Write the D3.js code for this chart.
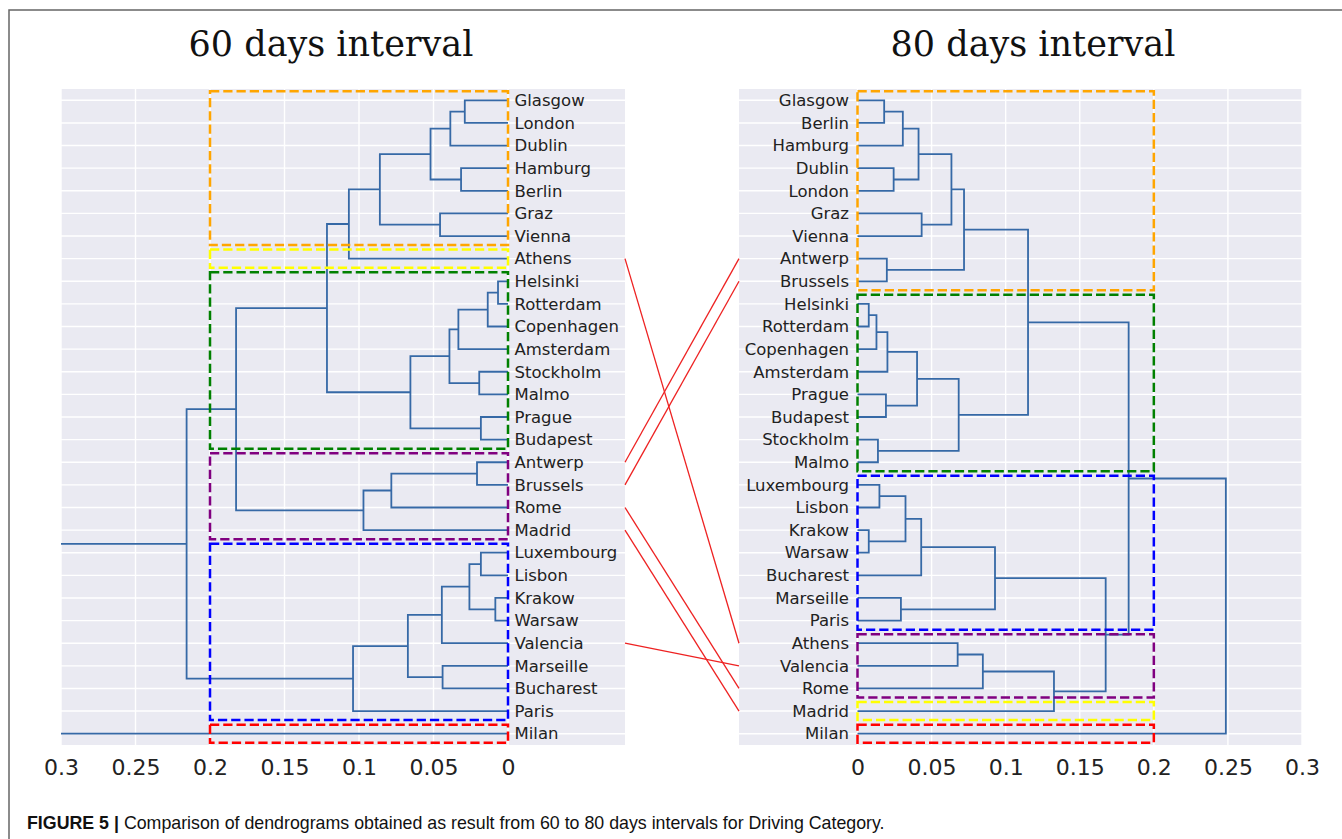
<!DOCTYPE html>
<html>
<head>
<meta charset="utf-8">
<script src="https://cdn.jsdelivr.net/npm/d3@7"></script>
<style>
  html, body { margin: 0; padding: 0; background: #ffffff; }
  svg { display: block; }
</style>
</head>
<body>
<svg id="chart" width="1342" height="839"></svg>
<script>
// ---------- data ----------
// Leaf order of each dendrogram (top to bottom)
const leaves60 = ["Glasgow","London","Dublin","Hamburg","Berlin","Graz","Vienna","Athens",
  "Helsinki","Rotterdam","Copenhagen","Amsterdam","Stockholm","Malmo","Prague","Budapest",
  "Antwerp","Brussels","Rome","Madrid","Luxembourg","Lisbon","Krakow","Warsaw","Valencia",
  "Marseille","Bucharest","Paris","Milan"];
const leaves80 = ["Glasgow","Berlin","Hamburg","Dublin","London","Graz","Vienna","Antwerp",
  "Brussels","Helsinki","Rotterdam","Copenhagen","Amsterdam","Prague","Budapest","Stockholm",
  "Malmo","Luxembourg","Lisbon","Krakow","Warsaw","Bucharest","Marseille","Paris","Athens",
  "Valencia","Rome","Madrid","Milan"];

// Merges: [childA, childB, distance]; a number points to an earlier merge (by index)
const merges60 = [
  ["Glasgow","London",0.029],      // 0
  [0,"Dublin",0.0387],             // 1
  ["Hamburg","Berlin",0.0315],     // 2
  [1,2,0.052],                     // 3
  ["Graz","Vienna",0.0456],        // 4
  [3,4,0.086],                     // 5
  [5,"Athens",0.1068],             // 6
  ["Helsinki","Rotterdam",0.0067], // 7
  [7,"Copenhagen",0.0136],         // 8
  [8,"Amsterdam",0.0333],          // 9
  ["Stockholm","Malmo",0.0193],    // 10
  [9,10,0.0393],                   // 11
  ["Prague","Budapest",0.0182],    // 12
  [11,12,0.0655],                  // 13
  [6,13,0.1215],                   // 14
  ["Antwerp","Brussels",0.0208],   // 15
  [15,"Rome",0.0783],              // 16
  [16,"Madrid",0.097],             // 17
  [14,17,0.1825],                  // 18
  ["Luxembourg","Lisbon",0.0182],  // 19
  ["Krakow","Warsaw",0.0085],      // 20
  [19,20,0.0259],                  // 21
  [21,"Valencia",0.0444],          // 22
  ["Marseille","Bucharest",0.0439],// 23
  [22,23,0.0672],                  // 24
  [24,"Paris",0.104],              // 25
  [18,25,0.2157],                  // 26
  [26,"Milan",0.34]                // 27
];
const merges80 = [
  ["Glasgow","Berlin",0.018],      // 0
  [0,"Hamburg",0.0306],            // 1
  ["Dublin","London",0.0244],      // 2
  [1,2,0.0412],                    // 3
  ["Graz","Vienna",0.0433],        // 4
  [3,4,0.0634],                    // 5
  ["Antwerp","Brussels",0.0198],   // 6
  [5,6,0.0719],                    // 7
  ["Helsinki","Rotterdam",0.0076], // 8
  [8,"Copenhagen",0.0128],         // 9
  [9,"Amsterdam",0.0202],          // 10
  ["Prague","Budapest",0.0192],    // 11
  [10,11,0.0402],                  // 12
  ["Stockholm","Malmo",0.0138],    // 13
  [12,13,0.0683],                  // 14
  [7,14,0.1151],                   // 15
  ["Luxembourg","Lisbon",0.0148],  // 16
  ["Krakow","Warsaw",0.0076],      // 17
  [16,17,0.0324],                  // 18
  [18,"Bucharest",0.043],          // 19
  ["Marseille","Paris",0.0293],    // 20
  [19,20,0.0928],                  // 21
  ["Athens","Valencia",0.0676],    // 22
  [22,"Rome",0.0846],              // 23
  [23,"Madrid",0.1326],            // 24
  [21,24,0.1675],                  // 25
  [15,25,0.183],                   // 26
  [26,"Milan",0.2486]              // 27
];

// Clusters cut at the threshold: [first leaf, last leaf]
const cutHeight = 0.2;
const clusters60 = [["Glasgow","Vienna"],["Athens","Athens"],["Helsinki","Budapest"],
  ["Antwerp","Madrid"],["Luxembourg","Paris"],["Milan","Milan"]];
const clusterColors60 = ["#ffa500","#ffff00","#008000","#800080","#0000ff","#ff0000"];
const clusters80 = [["Glasgow","Brussels"],["Helsinki","Malmo"],["Luxembourg","Paris"],
  ["Athens","Rome"],["Madrid","Madrid"],["Milan","Milan"]];
const clusterColors80 = ["#ffa500","#008000","#0000ff","#800080","#ffff00","#ff0000"];

// Cities whose cluster changes between the two intervals
const movedCities = ["Athens","Antwerp","Brussels","Rome","Madrid","Valencia"];

const axisTicks = [0, 0.05, 0.1, 0.15, 0.2, 0.25, 0.3];
const titles = ["60 days interval", "80 days interval"];

// ---------- layout ----------
const svg = d3.select("#chart");
const plotTop = 89, plotBottom = 745;
const linkColor = "#3669a6";

const yScale = d3.scaleLinear().domain([-0.5, leaves60.length - 0.5]).range([plotTop, plotBottom]);

const panels = [
  { leaves: leaves60, merges: merges60, clusters: clusters60, colors: clusterColors60,
    bgX0: 61, bgX1: 625, x: d3.scaleLinear().domain([0.3, 0]).range([61, 508]),
    side: "right", titleX: 331, id: "p60" },
  { leaves: leaves80, merges: merges80, clusters: clusters80, colors: clusterColors80,
    bgX0: 739, bgX1: 1302, x: d3.scaleLinear().domain([0, 0.3]).range([857.5, 1302]),
    side: "left", titleX: 1033, id: "p80" }
];

function layoutTree(leaves, merges) {
  const pos = new Map(leaves.map((n, i) => [n, i]));
  const nodes = [];
  const get = c => typeof c === "number" ? nodes[c] : { y: pos.get(c), h: 0 };
  merges.forEach(([a, b, h]) => {
    const A = get(a), B = get(b);
    nodes.push({ a: A, b: B, h: h, y: (A.y + B.y) / 2 });
  });
  return { nodes, pos };
}

panels.forEach((p, pi) => {
  const g = svg.append("g");
  const x = p.x;
  const { nodes, pos } = layoutTree(p.leaves, p.merges);

  g.append("clipPath").attr("id", "clip-" + p.id)
    .append("rect").attr("x", p.bgX0).attr("y", plotTop)
    .attr("width", p.bgX1 - p.bgX0).attr("height", plotBottom - plotTop);

  // background
  g.append("rect").attr("x", p.bgX0).attr("y", plotTop)
    .attr("width", p.bgX1 - p.bgX0).attr("height", plotBottom - plotTop)
    .attr("fill", "#eaeaf2");

  // grid
  const grid = g.append("g").attr("stroke", "#ffffff").attr("stroke-width", 1.4);
  grid.selectAll("line.v").data(axisTicks).join("line")
    .attr("x1", d => x(d)).attr("x2", d => x(d))
    .attr("y1", plotTop).attr("y2", plotBottom);
  grid.selectAll("line.h").data(p.leaves).join("line")
    .attr("x1", p.bgX0).attr("x2", p.bgX1)
    .attr("y1", (d, i) => yScale(i)).attr("y2", (d, i) => yScale(i));

  // dendrogram links
  g.append("g").attr("clip-path", `url(#clip-${p.id})`)
    .selectAll("path").data(nodes).join("path")
    .attr("fill", "none").attr("stroke", linkColor).attr("stroke-width", 1.8)
    .attr("d", n => `M${x(n.a.h)},${yScale(n.a.y)}H${x(n.h)}V${yScale(n.b.y)}H${x(n.b.h)}`);

  // cluster boxes
  g.append("g").selectAll("rect").data(p.clusters).join("rect")
    .attr("x", Math.min(x(0), x(cutHeight)))
    .attr("width", Math.abs(x(cutHeight) - x(0)))
    .attr("y", d => yScale(pos.get(d[0]) - 0.4))
    .attr("height", d => yScale(pos.get(d[1]) + 0.4) - yScale(pos.get(d[0]) - 0.4))
    .attr("fill", "none")
    .attr("stroke", (d, i) => p.colors[i])
    .attr("stroke-width", 2.5)
    .attr("stroke-dasharray", "9.25,4");

  // leaf labels
  g.append("g").selectAll("text").data(p.leaves).join("text")
    .attr("x", p.side === "right" ? x(0) + 6.5 : x(0) - 8.5)
    .attr("y", (d, i) => yScale(i))
    .attr("dy", "0.35em")
    .attr("text-anchor", p.side === "right" ? "start" : "end")
    .attr("font-family", "DejaVu Sans")
    .attr("font-size", 16.5)
    .attr("fill", "#222222")
    .text(d => d);

  // x axis
  const axis = d3.axisBottom(x).tickValues(axisTicks).tickSize(0).tickPadding(14)
    .tickFormat(d3.format("~g"));
  const ax = g.append("g").attr("transform", `translate(0,${plotBottom})`).call(axis);
  ax.select(".domain").remove();
  ax.selectAll("text").attr("font-family", "DejaVu Sans").attr("font-size", 22).attr("fill", "#222222");

  // title
  svg.append("text").attr("x", p.titleX).attr("y", 56)
    .attr("text-anchor", "middle")
    .attr("font-family", "DejaVu Serif").attr("font-size", 35).attr("fill", "#111111")
    .text(titles[pi]);

  p.pos = pos;
});

// connections between the two dendrograms
svg.append("g").selectAll("line").data(movedCities).join("line")
  .attr("x1", panels[0].bgX1).attr("y1", d => yScale(panels[0].pos.get(d)))
  .attr("x2", panels[1].bgX0).attr("y2", d => yScale(panels[1].pos.get(d)))
  .attr("stroke", "#ee2222").attr("stroke-width", 1.3);

// frame
svg.append("path").attr("d", "M9,839V10H1342").attr("fill", "none")
  .attr("stroke", "#666666").attr("stroke-width", 1.5);

// caption
const cap = svg.append("text").attr("x", 27).attr("y", 829)
  .attr("font-family", "Liberation Sans, Arial, sans-serif").attr("font-size", 17.8).attr("fill", "#111111");
cap.append("tspan").attr("font-weight", "bold").text("FIGURE 5");
cap.append("tspan").attr("font-weight", "bold").text(" | ");
cap.append("tspan").text("Comparison of dendrograms obtained as result from 60 to 80 days intervals for Driving Category.");
</script>
</body>
</html>
